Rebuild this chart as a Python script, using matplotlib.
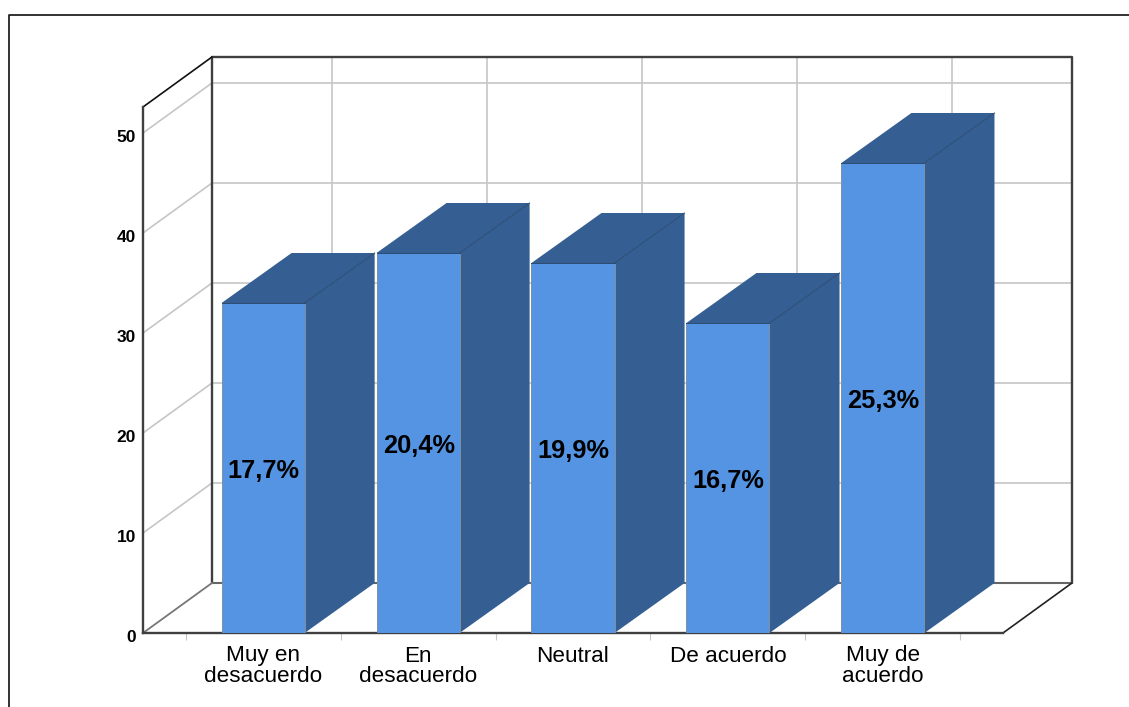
import matplotlib
matplotlib.use('Agg')
import matplotlib.pyplot as plt
from matplotlib.lines import Line2D
from matplotlib.transforms import ScaledTranslation

categorias = ['Muy en\ndesacuerdo', 'En\ndesacuerdo', 'Neutral', 'De acuerdo', 'Muy de\nacuerdo']
valores = [33, 38, 37, 31, 47]
etiquetas = ['17,7%', '20,4%', '19,9%', '16,7%', '25,3%']
ticks_y = [0, 10, 20, 30, 40, 50]
ticks_x = [-0.5, 0.5, 1.5, 2.5, 3.5, 4.5]

plt.rcParams['font.family'] = ['Liberation Sans', 'DejaVu Sans']

W, H = 1129, 707
fig = plt.figure(figsize=(W / 100, H / 100), dpi=100, facecolor='white')
# ejes en la cara frontal del "cubo"
ax = fig.add_axes([143 / W, (H - 633) / H, 860 / W, 526 / H])
ax.set_xlim(-0.775, 4.775)
ax.set_ylim(0, 52.6)
ax.patch.set_visible(False)

# profundidad del efecto 3D, en unidades de los ejes
dx = 0.445
dx_barra = 0.452
dy = 5.0
ancho = 0.268

oscuro = '#3f3f3f'
gris = '#c6c6c6'
frente = '#5494e3'
lado = '#355f92'
x0, x1 = ax.get_xlim()
y1 = ax.get_ylim()[1]


def linea(xs, ys, color, lw, z=1):
    ax.plot(xs, ys, color=color, lw=lw, zorder=z, clip_on=False, solid_capstyle='round')


# rejilla de las paredes
for t in ticks_y[1:]:
    linea([x0, x0 + dx, x1 + dx], [t, t + dy, t + dy], gris, 1.2)
for i in range(len(categorias)):
    linea([i + dx, i + dx], [dy, y1 + dy], gris, 1.2)

# paredes y suelo
linea([x0 + dx, x0 + dx], [dy, y1 + dy], oscuro, 1.7, 2)
linea([x0 + dx, x1 + dx, x1 + dx], [y1 + dy, y1 + dy, dy], oscuro, 1.7, 2)
linea([x0, x0 + dx], [y1, y1 + dy], '#111111', 1.2, 2)
linea([x0 + dx, x1 + dx], [dy, dy], '#666666', 1.5, 2)
linea([x0, x0 + dx], [0, dy], '#777777', 1.3, 2)
linea([x1, x1 + dx], [0, dy], '#222222', 1.2, 2)

# barras
for i, v in enumerate(valores):
    izq, der = i - ancho, i + ancho
    ax.fill([der, der + dx_barra, der + dx_barra, der], [0, dy, v + dy, v], color=lado, lw=0, zorder=3, clip_on=False)
    ax.fill([izq, izq + dx_barra, der + dx_barra, der], [v, v + dy, v + dy, v], color=lado, lw=0, zorder=3, clip_on=False)
    ax.plot([der, der + dx_barra], [v, v + dy], color='#2a4a72', lw=0.7, zorder=4, clip_on=False)
    ax.plot([izq, der], [v, v], color='#2a4a72', lw=0.7, zorder=6, clip_on=False)
    ax.bar(i, v, width=2 * ancho, color=frente, edgecolor='#7f8fa3', linewidth=0.7, zorder=5)
    ax.annotate(etiquetas[i], (i + 0.005, v / 2), xytext=(0, -2), textcoords='offset points',
                ha='center', va='center', fontsize=18.3, fontweight='bold', color='black', zorder=7)

for s in ['top', 'right']:
    ax.spines[s].set_visible(False)
for s in ['left', 'bottom']:
    ax.spines[s].set_linewidth(1.7)
    ax.spines[s].set_color(oscuro)
    ax.spines[s].set_zorder(4)

ax.set_yticks(ticks_y)
ax.tick_params(axis='y', length=0, pad=5, labelsize=12.5)
subir = ScaledTranslation(0, 3 / 100, fig.dpi_scale_trans)
for lab in ax.get_yticklabels():
    lab.set_fontweight('bold')
    lab.set_verticalalignment('top')
    lab.set_transform(lab.get_transform() + subir)
ax.set_xticks(range(len(categorias)))
ax.set_xticklabels(categorias, fontsize=16.2, linespacing=0.95)
ax.tick_params(axis='x', length=0, pad=9)
ax.set_xticks(ticks_x, minor=True)
ax.tick_params(axis='x', which='minor', length=5, width=0.8, color=gris)

# marco exterior de la captura
fig.add_artist(Line2D([9 / W, 9 / W, 1], [0, 1 - 15 / H, 1 - 15 / H], color='#222222', lw=1.3))

fig.savefig('out.png', dpi=100, facecolor='white')
